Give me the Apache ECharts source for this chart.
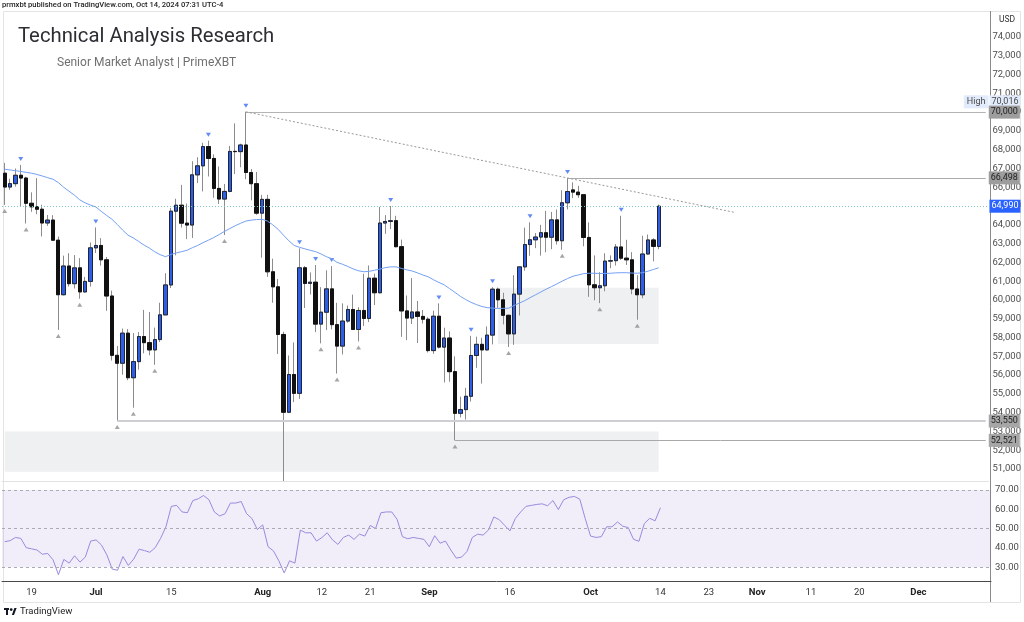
<!DOCTYPE html>
<html><head><meta charset="utf-8">
<script src="https://cdn.jsdelivr.net/npm/echarts@6/dist/echarts.min.js"></script>
<style>html,body{margin:0;padding:0;background:#fff}#c{width:1024px;height:622px}</style>
</head><body><div id="c"></div>
<script>
// ---- data (daily candles, Jun 14 -> Oct 14, 2024) ----
const firstDay = '2024-06-14';
const lastAxisDay = '2024-12-14';
const openP = [66747,66011,66191,66639,66490,65146,64960,64829,64097,64253,63180,60277,61806,60864,61707,60427,60986,62773,62900,62135,60208,57050,56628,58230,55857,56714,58052,57725,57339,57889,59204,60797,64725,65043,64088,63987,66660,67139,68166,67533,65937,65372,65778,67908,67896,68249,66784,66189,64620,65354,61498,60697,58161,54019,56030,55027,61710,60881,60945,58713,59346,60588,58683,57542,58874,59491,58427,59439,59014,61157,60381,64094,64179,64220,62834,59415,59034,59359,59123,58974,57301,59132,57487,57970,56181,53962,54160,54869,57042,57635,57339,58127,60571,60005,59182,58192,60309,61759,62948,63201,63348,63578,63339,64262,63152,65173,65858,65740,65602,63327,60805,60649,60754,62067,62089,62819,62224,62134,60583,60275,62445,63193,62851];
const highP = [67294,66448,66998,67188,66556,65727,66482,65066,64525,64513,63370,62359,62488,62389,62225,61224,63058,63861,63289,62284,60499,57546,58475,58449,58236,58296,59470,59359,58526,59850,61420,64900,65388,66128,65133,67386,67598,68366,68479,67750,67102,66175,68200,69400,68318,70016,66970,66810,65593,65596,62198,61117,58305,57040,57736,62745,61800,61464,61858,60680,61578,61800,59849,59817,59700,60284,59617,61396,61834,61400,64955,64513,65000,64481,63212,60235,61166,59944,59462,59076,59426,59816,58520,58327,56995,54850,55318,58088,58044,57981,58588,60676,60656,60381,59211,61320,61786,63850,64133,63559,64000,64745,64688,64817,65839,66498,66260,66076,65618,64130,62370,61477,62484,62370,62974,64478,63200,62544,61320,63417,63480,63285,65080];
const lowP = [65056,65862,66034,65000,64066,64693,64560,63379,63943,63180,58402,60239,60712,60606,60063,60383,60712,62497,61826,59419,56771,53550,56019,55724,54260,56289,57157,57052,56542,57756,59204,60632,62373,63854,63238,63300,66222,65777,66574,65441,65111,63456,65733,66705,67066,66428,65302,64530,62248,61230,59850,57122,49000,53970,54558,54730,59568,60287,58286,57688,58392,58433,56078,57098,58786,58408,57787,58610,58823,59724,60345,63520,63773,62800,58034,57860,58713,57701,58744,57201,57128,57415,55606,55643,52521,53745,53629,54591,56386,55545,57324,57632,59581,58696,57494,57610,59174,61555,62350,62758,62357,62538,62700,62947,62670,64819,65422,65432,62856,60164,59981,59828,60459,61689,61830,62128,61860,60300,58946,60088,62414,62050,62700];
const closeP = [66011,66192,66639,66490,65146,64960,64828,64096,64252,63180,60277,61806,60864,61706,60427,60986,62772,62900,62135,60208,57050,56628,58230,55857,56715,58051,57725,57339,57889,59204,60797,64725,65043,64087,63987,66660,67139,68165,67532,65937,65372,65778,67907,67896,68249,66784,66189,64620,65354,61498,60697,58161,54018,56030,55027,61710,60880,60945,58712,59346,60588,58683,57542,58874,59491,58427,59439,59014,61157,60381,64094,64178,64220,62834,59415,59034,59359,59123,58973,57301,59132,57487,57970,56180,53962,54160,54869,57042,57635,57339,58127,60571,60005,59182,58192,60309,61759,62947,63201,63348,63578,63339,64262,63152,65173,65769,65740,65602,63327,60805,60649,60753,62067,62089,62818,62224,62134,60583,60275,62445,63193,62851,64990];
const maValues = [66960,66920,66880,66840,66790,66750,66680,66600,66510,66430,66250,66000,65790,65580,65330,65170,65050,64950,64720,64500,64300,64020,63720,63450,63300,63110,62920,62760,62560,62410,62300,62420,62500,62570,62640,62780,62900,63050,63180,63320,63480,63650,63800,63950,64080,64200,64250,64280,64290,64200,64000,63760,63450,63150,62900,62800,62720,62640,62570,62450,62300,62200,62000,61900,61780,61650,61550,61500,61520,61580,61640,61720,61760,61760,61680,61600,61540,61440,61330,61230,61070,60930,60800,60600,60400,60190,60020,59870,59750,59650,59590,59560,59550,59550,59560,59700,59830,59960,60120,60270,60420,60570,60710,60850,61000,61140,61260,61330,61400,61420,61420,61410,61410,61420,61440,61450,61450,61430,61420,61450,61530,61620,61710];
const rsiValues = [43.2,43.7,45.4,44.9,40.1,39.5,38.9,36.7,37.1,33.8,26.1,34.0,32.1,35.9,32.6,35.2,43.5,44.1,41.5,36.4,29.0,28.4,35.5,30.9,34.2,39.3,38.6,37.7,40.1,44.9,50.9,61.5,62.0,58.6,58.2,64.5,65.4,67.1,64.9,58.6,56.5,57.7,63.2,63.2,64.0,57.7,55.2,49.5,51.9,40.6,38.4,33.3,27.0,33.3,32.1,49.2,47.8,47.8,43.5,45.3,47.8,44.1,41.8,45.4,46.6,44.4,47.1,46.1,51.6,50.0,58.2,58.6,58.6,54.8,45.8,44.7,45.4,44.9,44.4,40.6,46.3,42.4,43.5,38.9,34.7,35.2,38.1,45.4,47.1,46.6,49.2,56.0,54.6,51.7,48.8,55.2,58.6,61.5,62.0,62.5,62.8,61.8,64.5,59.8,64.9,66.2,66.6,65.2,55.2,46.1,45.4,45.8,50.9,50.9,53.4,51.2,50.5,44.4,43.4,52.6,55.3,54.0,60.8];
const pivotHighIdx = [3,17,38,45,55,58,61,72,81,87,91,98,105,115];
const pivotLowIdx = [0,4,10,14,21,24,28,41,59,62,66,84,94,104,111,118];
const priceTicks = [51000,52000,53000,54000,55000,56000,57000,58000,59000,60000,61000,62000,63000,64000,65000,66000,67000,68000,69000,70000,71000,72000,73000,74000];
const rsiTicks = [30,40,50,60,70];
const timeTickDates = ['2024-06-19','2024-07-01','2024-07-15','2024-08-01','2024-08-12','2024-08-21','2024-09-01','2024-09-16','2024-10-01','2024-10-14','2024-10-23','2024-11-01','2024-11-11','2024-11-20','2024-12-01'];
const timeTickLabels = ['19','Jul','15','Aug','12','21','Sep','16','Oct','14','23','Nov','11','20','Dec'];
const lastPrice = 64990;
const highValue = 70016;
const levelStarts = [['2024-07-29',70000],['2024-09-27',66498],['2024-07-05',53550],['2024-09-06',52521]];
const trendPoints = [['2024-07-29',70016],['2024-10-28',64670]];
const zoneBoxes = [['2024-06-14',53000,'2024-10-14',50850],['2024-09-14',60650,'2024-10-14',57650]];

// ---- build ----
const PRICE_MIN = 50358, PRICE_MAX = 75331;
function buildDays(a,b){const out=[];let d=new Date(a+'T00:00:00Z');const e=new Date(b+'T00:00:00Z');while(d<=e){out.push(d.toISOString().slice(0,10));d=new Date(d.getTime()+86400000);}return out;}
const days = buildDays(firstDay,lastAxisDay);
const lastDay = days[days.length-1];
// wicks below the pane bottom are clipped at the pane edge (as the chart pane does)
const candleData = openP.map((o,i)=>[o,closeP[i],Math.max(lowP[i],PRICE_MIN),highP[i]]);
const bodyData = openP.map((o,i)=>[o,closeP[i],Math.min(o,closeP[i]),Math.max(o,closeP[i])]);
const tickMap = {}; timeTickDates.forEach((d,i)=>tickMap[d]=timeTickLabels[i]);
const fmt = v => Number(v).toLocaleString('en-US');
const FONT = 'Roboto';

function boxLabel(text,bg,color,extra){return Object.assign({show:true,position:'end',distance:1,formatter:text,backgroundColor:bg,color:color,fontSize:9,fontFamily:FONT,padding:[2,2,1,2],lineHeight:10},extra||{});}

const levelStyles = [
  {color:'#b4b4b4',width:1.2,bg:'#9d9d9d'},
  {color:'#ababab',width:1,bg:'#9d9d9d'},
  {color:'#cfcfd3',width:2,bg:'#a6a6a6'},
  {color:'#a9a9a9',width:1,bg:'#a6a6a6'}
];

const markLines = [
  {yAxis:lastPrice,lineStyle:{color:'#86c7bd',type:[1,2],width:1},label:boxLabel(fmt(lastPrice),'#2962ff','#ffffff')},
  {yAxis:highValue,lineStyle:{color:'transparent',width:0},label:boxLabel(fmt(highValue),'#e2ebfb','#4a4a4a',{offset:[0,-10]})},
  {yAxis:highValue,lineStyle:{color:'transparent',width:0},label:{show:true,position:'insideEnd',distance:0,formatter:'High',backgroundColor:'#e2ebfb',color:'#4a4a4a',fontSize:9,fontFamily:FONT,padding:[2,3,1,3],lineHeight:10,offset:[0,-10]}}
];
levelStarts.forEach((l,k)=>{
  const s = levelStyles[k];
  markLines.push([{coord:[l[0],l[1]],lineStyle:{color:s.color,width:s.width,type:'solid'},label:boxLabel(fmt(l[1]),s.bg,'#1f1f1f',{distance:3})},{coord:[lastDay,l[1]]}]);
});
markLines.push([{coord:trendPoints[0],lineStyle:{color:'#9a9a9a',width:1,type:[2,2]},label:{show:false}},{coord:trendPoints[1]}]);

const markAreas = zoneBoxes.map(z=>[{coord:[z[0],z[1]]},{coord:[z[2],z[3]]}]);

const option = {
  animation:false,
  backgroundColor:'#ffffff',
  textStyle:{fontFamily:FONT},
  grid:[
    {left:2,right:33,top:12,height:469},
    {left:2,right:33,top:483,height:98}
  ],
  xAxis:[
    {type:'category',gridIndex:0,data:days,boundaryGap:true,axisLabel:{show:false},axisTick:{show:false},axisLine:{show:true,lineStyle:{color:'#e2e2e2'}},splitLine:{show:false}},
    {type:'category',gridIndex:1,data:days,boundaryGap:true,axisTick:{show:false},axisLine:{show:true,lineStyle:{color:'#4a4a4a'}},splitLine:{show:false},
     axisLabel:{show:true,margin:7,interval:(idx,val)=>tickMap[val]!==undefined,hideOverlap:false,fontSize:9.5,color:'#333',fontFamily:FONT,
       formatter:v=>{const t=tickMap[v];if(t===undefined)return '';return /[A-Za-z]/.test(t)?'{b|'+t+'}':t;},
       rich:{b:{fontWeight:'bold',fontSize:9.5,color:'#222',fontFamily:FONT}}}}
  ],
  yAxis:[
    {type:'value',gridIndex:0,position:'right',min:PRICE_MIN,max:PRICE_MAX,splitLine:{show:false},axisLine:{show:false},axisTick:{show:false},
     axisLabel:{show:true,customValues:priceTicks,formatter:fmt,fontSize:9.5,color:'#4d4d4d',margin:4,fontFamily:FONT}},
    {type:'value',gridIndex:1,position:'right',min:22.83,max:73.59,splitLine:{show:false},axisLine:{show:false},axisTick:{show:false},
     axisLabel:{show:true,customValues:rsiTicks,formatter:v=>Number(v).toFixed(2),fontSize:9.5,color:'#4d4d4d',margin:4,fontFamily:FONT}}
  ],
  series:[
    {type:'candlestick',name:'wick',xAxisIndex:0,yAxisIndex:0,data:candleData,barWidth:'72%',clip:true,
     itemStyle:{color:'#2f5ee6',color0:'#111111',borderColor:'#8c8c8c',borderColor0:'#8c8c8c',borderWidth:1},
     markLine:{silent:true,symbol:['none','none'],animation:false,data:markLines},
     markArea:{silent:true,itemStyle:{color:'rgba(112,116,138,0.11)'},data:markAreas}},
    {type:'candlestick',name:'body',xAxisIndex:0,yAxisIndex:0,data:bodyData,barWidth:'72%',clip:true,
     itemStyle:{color:'#2f5ee6',color0:'#111111',borderColor:'#1f2533',borderColor0:'#111111',borderWidth:1}},
    {type:'line',name:'MA',xAxisIndex:0,yAxisIndex:0,data:maValues,showSymbol:false,smooth:false,lineStyle:{color:'#74a0f4',width:1}},
    {type:'scatter',name:'pivotHigh',xAxisIndex:0,yAxisIndex:0,data:pivotHighIdx.map(i=>[days[i],highP[i]]),
     symbol:'path://M0,0 L10,0 L5,8 Z',symbolSize:[5,4],symbolOffset:[0,-6],itemStyle:{color:'#3c6ef2'}},
    {type:'scatter',name:'pivotLow',xAxisIndex:0,yAxisIndex:0,data:pivotLowIdx.map(i=>[days[i],lowP[i]]),
     symbol:'path://M5,0 L10,8 L0,8 Z',symbolSize:[5,4],symbolOffset:[0,6],itemStyle:{color:'#8e8e8e'}},
    {type:'line',name:'RSI',xAxisIndex:1,yAxisIndex:1,data:rsiValues,showSymbol:false,lineStyle:{color:'#9a8ade',width:1},
     markArea:{silent:true,itemStyle:{color:'rgba(126,87,194,0.1)'},data:[[{yAxis:30},{yAxis:70}]]},
     markLine:{silent:true,symbol:['none','none'],label:{show:false},lineStyle:{color:'#ababb5',type:[3,3],width:1},data:rsiTicks.filter(v=>v!==40&&v!==60).map(v=>({yAxis:v}))}}
  ],
  graphic:[
    {type:'rect',shape:{x:3.5,y:11.5,width:1017,height:591},style:{fill:'none',stroke:'#e4e4e4',lineWidth:1},silent:true,z:-1},
    {type:'line',shape:{x1:990.5,y1:11,x2:990.5,y2:602},style:{stroke:'#8a8a8a',lineWidth:1},silent:true},
    {type:'text',x:2,y:1,style:{text:'prmxbt published on TradingView.com, Oct 14, 2024 07:31 UTC-4',font:'500 7.6px Roboto',fill:'#1e1e1e'}},
    {type:'text',x:18,y:37,style:{text:'Technical Analysis Research',font:'400 20.3px Roboto',fill:'#2d2e33',verticalAlign:'middle'}},
    {type:'text',x:57,y:63,style:{text:'Senior Market Analyst | PrimeXBT',font:'400 12px Roboto',fill:'#707070',verticalAlign:'middle'}},
    {type:'text',x:999,y:20,style:{text:'USD',font:'400 8.5px Roboto',fill:'#333',verticalAlign:'middle'}},
    {type:'group',x:4,y:608,children:[
      {type:'rect',shape:{x:0,y:0,width:5,height:2},style:{fill:'#131722'}},
      {type:'rect',shape:{x:2,y:0,width:2,height:7},style:{fill:'#131722'}},
      {type:'circle',shape:{cx:7.2,cy:1.6,r:1.4},style:{fill:'#131722'}},
      {type:'polygon',shape:{points:[[7.8,7],[10.4,0],[12.6,0],[10,7]]},style:{fill:'#131722'}}
    ]},
    {type:'text',x:20,y:612,style:{text:'TradingView',font:'400 9.5px Roboto',fill:'#222',verticalAlign:'middle'}}
  ]
};
const chart = echarts.init(document.getElementById('c'),null,{renderer:'canvas'});
chart.setOption(option);
</script></body></html>
